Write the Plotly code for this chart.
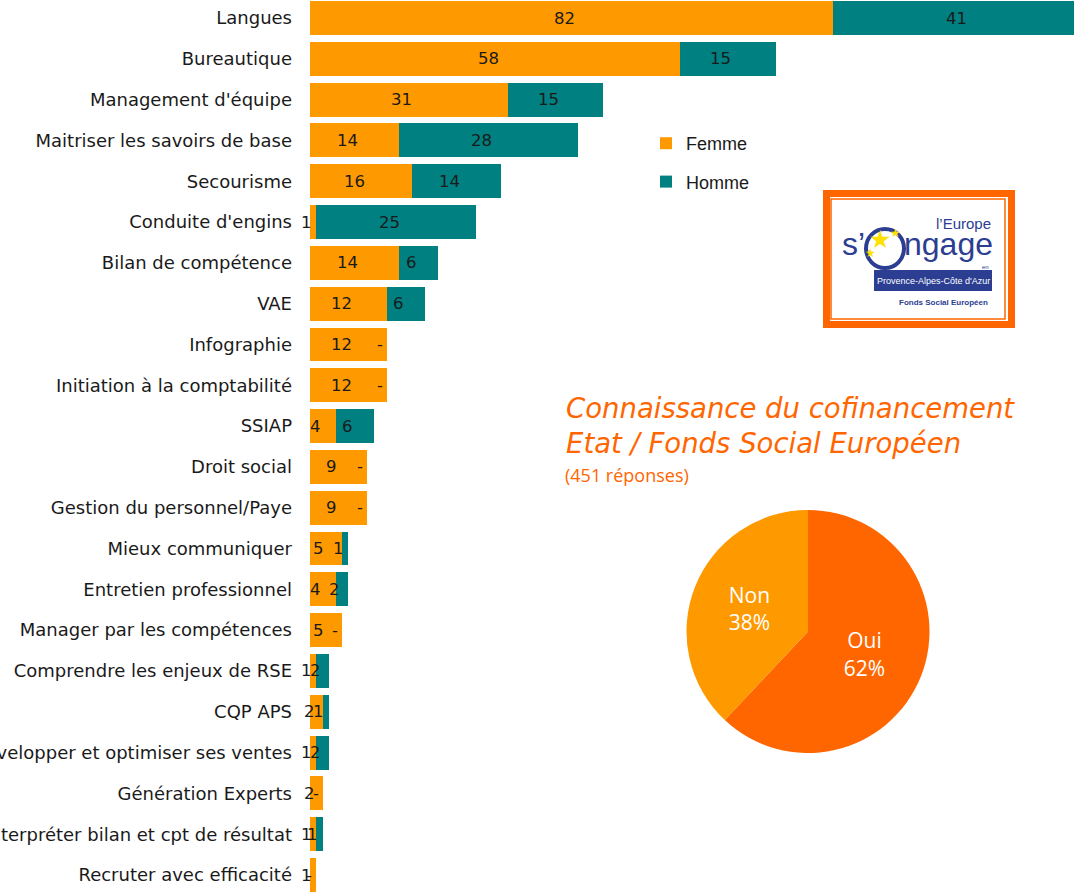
import plotly.graph_objects as go

W, H = 1074, 892

# formations, top to bottom
formations = [
    "Langues", "Bureautique", "Management d'équipe", "Maitriser les savoirs de base",
    "Secourisme", "Conduite d'engins", "Bilan de compétence", "VAE", "Infographie",
    "Initiation à la comptabilité", "SSIAP", "Droit social", "Gestion du personnel/Paye",
    "Mieux communiquer", "Entretien professionnel", "Manager par les compétences",
    "Comprendre les enjeux de RSE", "CQP APS", "Développer et optimiser ses ventes",
    "Génération Experts", "Interpréter bilan et cpt de résultat", "Recruter avec efficacité",
]
femme = [82, 58, 31, 14, 16, 1, 14, 12, 12, 12, 4, 9, 9, 5, 4, 5, 1, 2, 1, 2, 1, 1]
homme = [41, 15, 15, 28, 14, 25, 6, 6, 0, 0, 6, 0, 0, 1, 2, 0, 2, 1, 2, 0, 1, 0]

pie_labels = ["Oui", "Non"]
pie_values = [62, 38]

ORANGE = "#FF9900"
TEAL = "#008080"
DARK_ORANGE = "#FF6600"
LOGO_BLUE = "#2B3E92"
TXT = "#1a1a1a"


def px(x):
    # window pixel -> paper fraction
    return x / W


def py(y):
    return 1 - y / H


fig = go.Figure()
fig.add_trace(go.Bar(y=formations, x=femme, orientation="h", name="Femme",
                     marker=dict(color=ORANGE, line=dict(width=0)), legendgroup="f"))
fig.add_trace(go.Bar(y=formations, x=homme, orientation="h", name="Homme",
                     marker=dict(color=TEAL, line=dict(width=0)), legendgroup="h"))

# value labels ("-" for zero)
for cat, f, h in zip(formations, femme, homme):
    fig.add_annotation(x=f / 2, y=cat, text=str(f), showarrow=False, xshift=-7,
                       font=dict(family="DejaVu Sans", size=16.5, color=TXT))
    fig.add_annotation(x=f + h / 2, y=cat, text=str(h) if h else "-", showarrow=False,
                       xshift=-7, font=dict(family="DejaVu Sans", size=16.5, color=TXT))

# pie
fig.add_trace(go.Pie(
    labels=pie_labels, values=pie_values, sort=False, direction="clockwise", rotation=0,
    marker=dict(colors=[DARK_ORANGE, ORANGE], line=dict(width=0)),
    texttemplate="%{label}<br>%{percent:.0%}", textposition="inside",
    insidetextorientation="horizontal",
    textfont=dict(family="Open Sans", size=21, color="white"),
    showlegend=False, hoverinfo="label+percent",
    domain=dict(x=[px(686), px(930)], y=[py(753), py(510)]),
))

# pie title
fig.add_annotation(xref="paper", yref="paper", x=px(564), y=py(408), xanchor="left",
                   yanchor="middle", showarrow=False, text="<i>Connaissance du cofinancement</i>",
                   font=dict(family="DejaVu Sans", size=27.5, color=DARK_ORANGE))
fig.add_annotation(xref="paper", yref="paper", x=px(564), y=py(443), xanchor="left",
                   yanchor="middle", showarrow=False, text="<i>Etat / Fonds Social Européen</i>",
                   font=dict(family="DejaVu Sans", size=27.5, color=DARK_ORANGE))
fig.add_annotation(xref="paper", yref="paper", x=px(563), y=py(475), xanchor="left",
                   yanchor="middle", showarrow=False, text="(451 réponses)",
                   font=dict(family="Open Sans", size=18, color=DARK_ORANGE))

# logo "l'Europe s'engage"
shapes = [
    dict(type="rect", xref="paper", yref="paper", x0=px(826.5), x1=px(1011.5),
         y0=py(324.5), y1=py(193.5), line=dict(color=DARK_ORANGE, width=7), fillcolor="white"),
    dict(type="rect", xref="paper", yref="paper", x0=px(831), x1=px(1005),
         y0=py(319), y1=py(199), line=dict(color=DARK_ORANGE, width=1.5)),
    dict(type="rect", xref="paper", yref="paper", x0=px(874), x1=px(992),
         y0=py(291), y1=py(270), line=dict(width=0), fillcolor=LOGO_BLUE),
    dict(type="circle", xref="paper", yref="paper", x0=px(866), x1=px(904),
         y0=py(268), y1=py(229), line=dict(color=LOGO_BLUE, width=4)),
]
fig.update_layout(shapes=shapes)

logo_txt = [
    (963, 223, "l’Europe", "Liberation Sans", 15, LOGO_BLUE),
    (853, 244, "s’", "Liberation Sans", 32, LOGO_BLUE),
    (948, 244, "ngage", "Liberation Sans", 32, LOGO_BLUE),
    (880, 239, "★", "DejaVu Sans", 25, "#FFE000"),
    (895, 233, "★", "DejaVu Sans", 12, "#FFE000"),
    (870, 253, "★", "DejaVu Sans", 12, "#FFE000"),
    (985, 267, "en", "Liberation Sans", 6, LOGO_BLUE),
    (933, 281, "Provence-Alpes-Côte d'Azur", "Liberation Sans", 9, "white"),
    (943, 302, "<b>Fonds Social Européen</b>", "Liberation Sans", 8, LOGO_BLUE),
]
for x, y, t, fam, sz, col in logo_txt:
    fig.add_annotation(xref="paper", yref="paper", x=px(x), y=py(y), text=t, showarrow=False,
                       xanchor="center", yanchor="middle", font=dict(family=fam, size=sz, color=col))

# row centres: first at y=18 px, last at y=875 px
pitch = (875 - 18) / (len(formations) - 1)
y_top = -18 / pitch
y_bot = (H - 18) / pitch

fig.update_layout(
    width=W, height=H,
    margin=dict(l=0, r=0, t=0, b=0),
    paper_bgcolor="white", plot_bgcolor="white",
    barmode="stack", bargap=0.17,
    xaxis=dict(domain=[px(310), 1], range=[0, (W - 310) / 6.38], visible=False,
               fixedrange=True),
    yaxis=dict(type="category", range=[y_bot, y_top], showgrid=False, showline=False,
               ticks="", automargin=False, ticklabelstandoff=17, fixedrange=True,
               tickfont=dict(family="DejaVu Sans", size=18, color=TXT)),
    legend=dict(x=px(646), y=py(125), xanchor="left", yanchor="top", tracegroupgap=12,
                font=dict(family="Liberation Sans", size=18, color=TXT),
                bgcolor="rgba(0,0,0,0)", itemwidth=30),
    showlegend=True,
)

# drop the default page margin so the figure fills the window exactly
fig.write_html("out.html", config={"displayModeBar": False},
               post_script="document.body.style.margin='0';document.body.style.overflow='hidden';")
